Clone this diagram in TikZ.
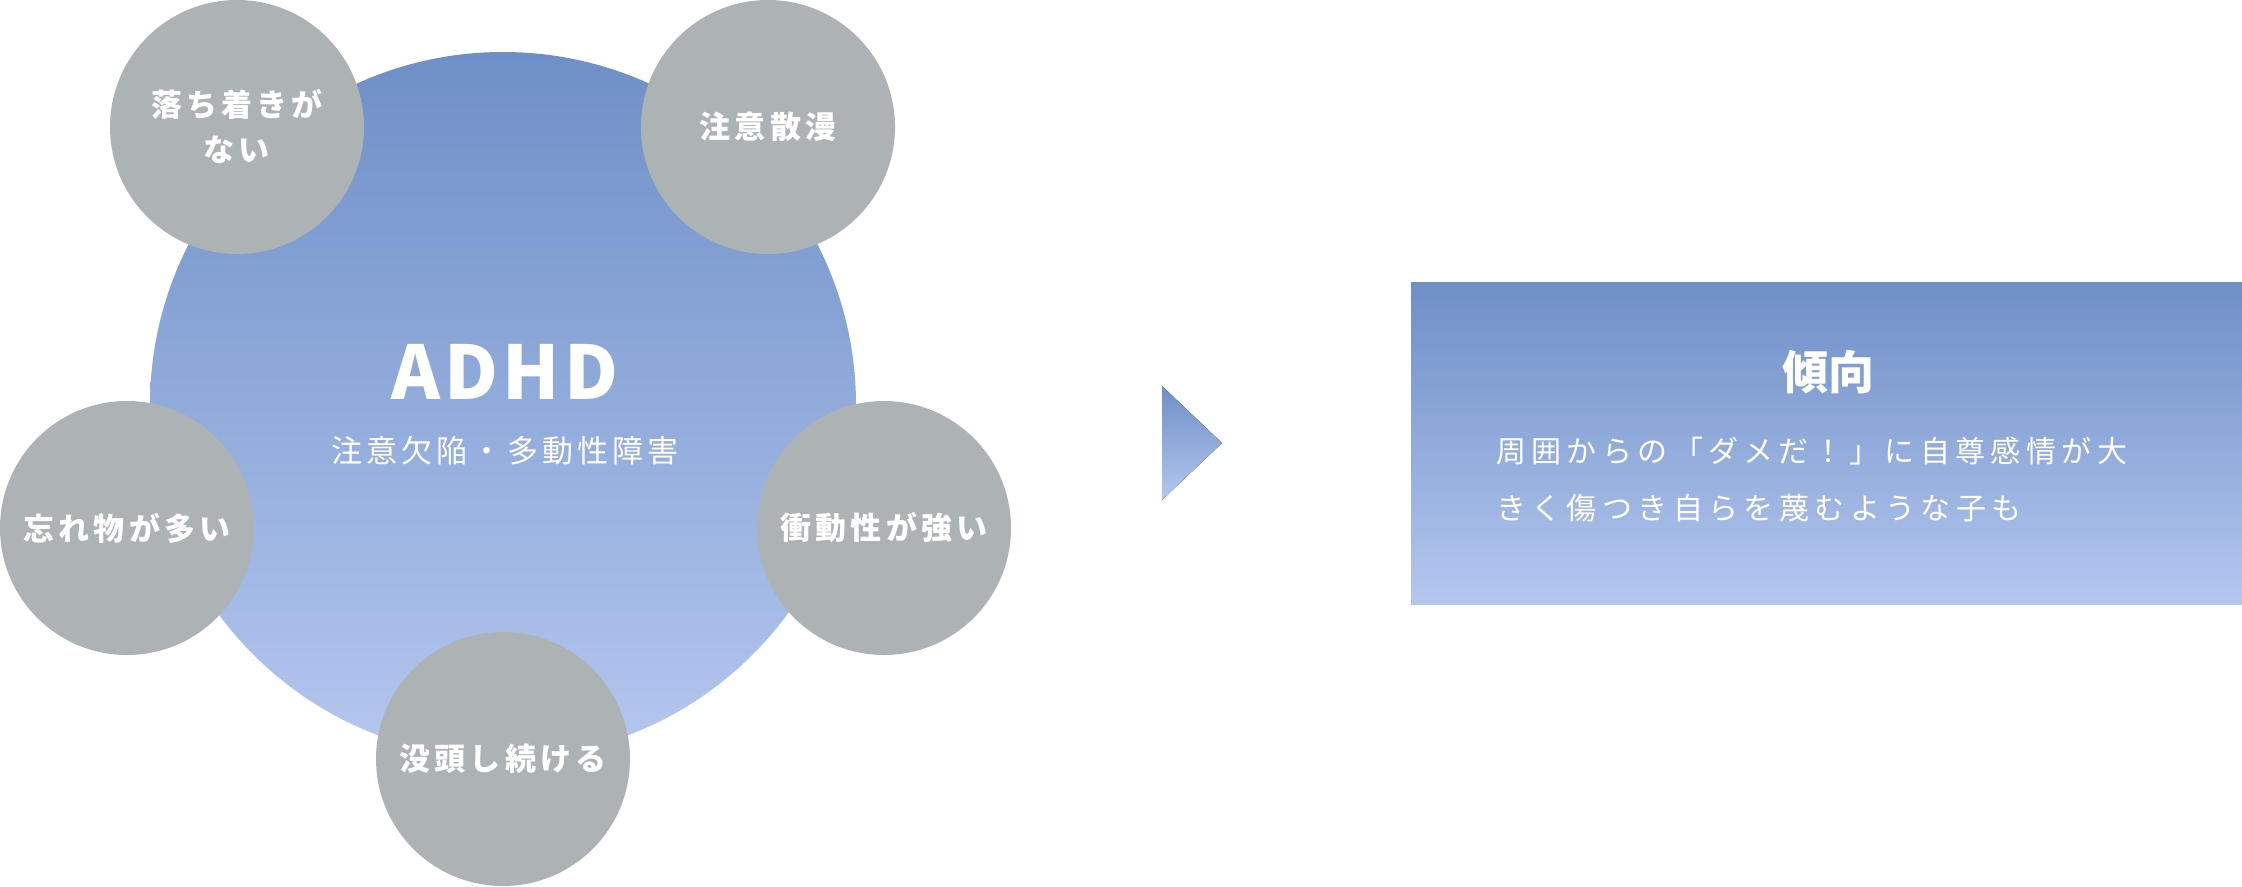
\documentclass[tikz,border=0pt]{standalone}
\usepackage{fontspec}
\setmainfont{Noto Sans CJK JP}
\newfontfamily\pillfont{Noto Sans CJK JP}[LetterSpace=13]
\newfontfamily\titlefont{Noto Sans CJK JP}[LetterSpace=6]
\newfontfamily\subfont{Noto Sans CJK JP}[LetterSpace=13]
\newfontfamily\bodyfont{Noto Sans CJK JP}[LetterSpace=18]
\usepackage{xcolor}
\definecolor{bluetop}{HTML}{6E8FC7}
\definecolor{bluebottom}{HTML}{B4C7EF}
\definecolor{pillgray}{HTML}{ADB2B4}

\tikzset{
	bluegrad/.style={top color=bluetop, bottom color=bluebottom, draw=none},
	pill/.style={circle, fill=pillgray, minimum size=254pt, inner sep=0pt, text=white, align=center,
		font=\pillfont\bfseries\fontsize{31}{45}\selectfont},
}

\begin{document}
\begin{tikzpicture}[x=1pt, y=-1pt]
			\useasboundingbox (0,0) rectangle (2242,886);
			\node (adhd) [circle, bluegrad, minimum size=706pt, inner sep=0pt] at (503,405) {};
			\node (adhdtitle) [text=white, inner sep=0pt, anchor=base, font=\titlefont\bfseries\fontsize{74}{74}\selectfont] at (505,399) {ADHD};
			\node (adhdsub) [text=white, inner sep=0pt, font=\subfont\fontsize{31}{31}\selectfont] at (505,451) {注意欠陥・多動性障害};
			\node (calm) [pill] at (237,127) {落ち着きが\\ない};
			\node (distract) [pill] at (768,127) {注意散漫};
			\node (forget) [pill] at (127,528) {忘れ物が多い};
			\node (impulse) [pill] at (884,528) {衝動性が強い};
			\node (focus) [pill] at (503,759) {没頭し続ける};
			\coordinate (tiptop) at (1162,386);
			\coordinate (tip) at (1222,443);
			\coordinate (tipbottom) at (1162,500);
			\fill [bluegrad] (tiptop) -- (tip) -- (tipbottom) -- cycle;
			\node (trend) [rectangle, bluegrad, minimum width=831pt, minimum height=322pt, inner sep=0pt, anchor=north west] at (1411,282) {};
			\node (trendtitle) [text=white, inner sep=0pt, font=\bfseries\fontsize{46}{46}\selectfont] at (1828,372) {傾向};
			\node (trendtext) [text=white, inner sep=0pt, anchor=west, align=left, font=\bodyfont\fontsize{30}{57}\selectfont] at (1496,479.5) {周囲からの「ダメだ！」に自尊感情が大\\きく傷つき自らを蔑むような子も};
		\end{tikzpicture}
\end{document}
